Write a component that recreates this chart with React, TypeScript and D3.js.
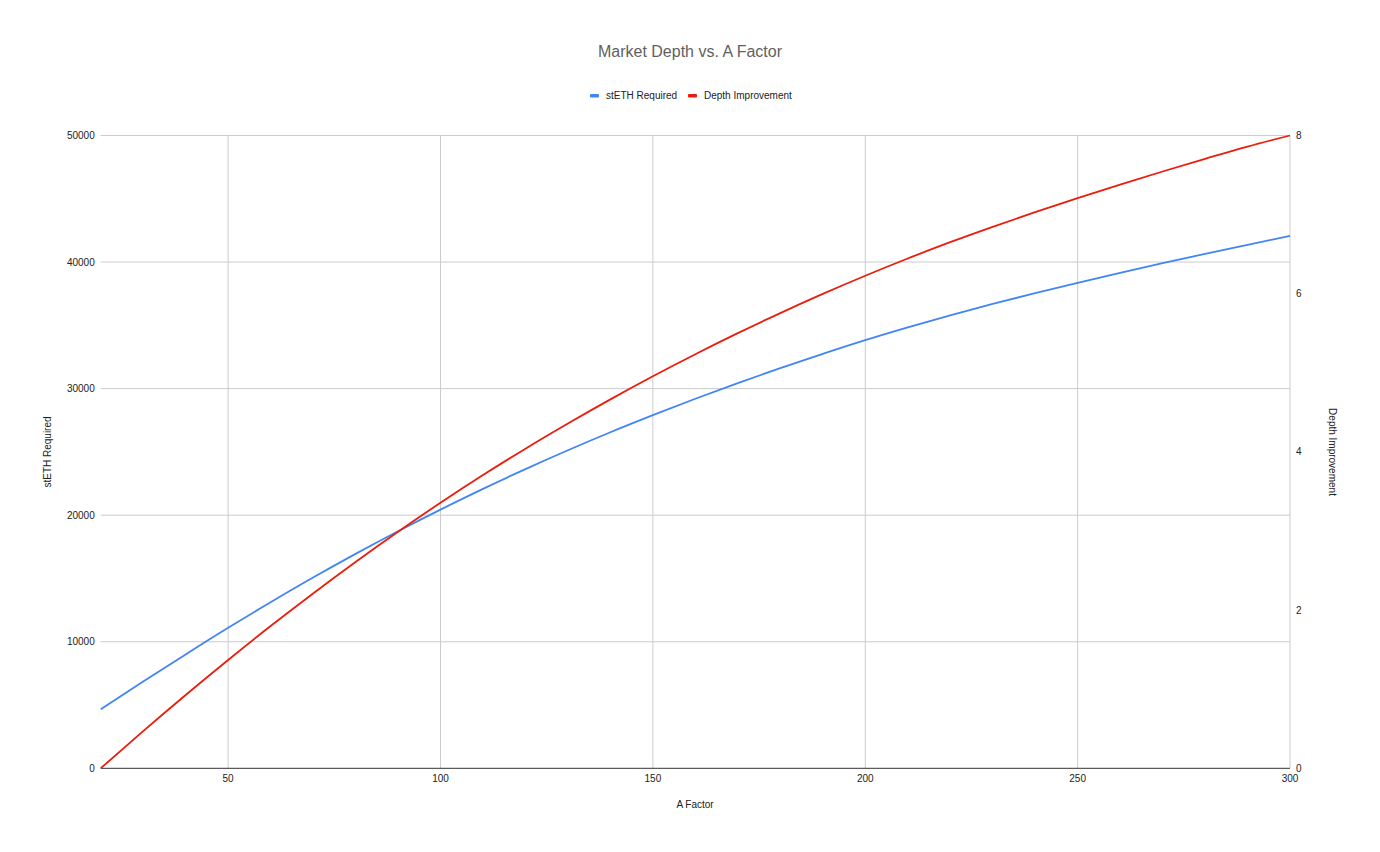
import React, { useEffect, useRef } from "react";
import * as d3 from "d3";

// A Factor values (x axis)
const aFactor = [
  20, 30, 40, 50, 60, 70, 80, 90, 100, 110, 120, 130, 140, 150, 160, 170, 180,
  190, 200, 210, 220, 230, 240, 250, 260, 270, 280, 290, 300,
];

// stETH Required (left axis)
const stethRequired = [
  4660, 6850, 9000, 11100, 13120, 15070, 16940, 18730, 20440, 22080, 23640,
  25130, 26550, 27900, 29200, 30440, 31620, 32750, 33830, 34840, 35790, 36690,
  37545, 38360, 39150, 39910, 40645, 41360, 42070,
];

// Depth Improvement (right axis)
const depthImprovement = [
  0, 0.47, 0.927, 1.37, 1.798, 2.211, 2.609, 2.991, 3.357, 3.707, 4.041, 4.359,
  4.664, 4.956, 5.235, 5.501, 5.755, 5.997, 6.227, 6.445, 6.651, 6.845, 7.031,
  7.209, 7.38, 7.545, 7.705, 7.86, 8.0,
];

const xTicks = [50, 100, 150, 200, 250, 300];
const leftTicks = [0, 10000, 20000, 30000, 40000, 50000];
const rightTicks = [0, 2, 4, 6, 8];

const seriesNames = ["stETH Required", "Depth Improvement"];
const seriesColors = ["#4285f4", "#ea1d0c"];

const FONT = "'Liberation Sans', Arial, sans-serif";

export default function App() {
  const svgRef = useRef<SVGSVGElement | null>(null);

  useEffect(() => {
    const width = 1380;
    const height = 852;
    const margin = { top: 135.5, right: 90, bottom: 83.7, left: 100.7 };
    const innerWidth = width - margin.left - margin.right;
    const innerHeight = height - margin.top - margin.bottom;

    const svg = d3.select(svgRef.current);
    svg.selectAll("*").remove();

    svg
      .append("rect")
      .attr("width", width)
      .attr("height", height)
      .attr("fill", "#ffffff");

    const xScale = d3.scaleLinear().domain([20, 300]).range([0, innerWidth]);
    const yLeft = d3.scaleLinear().domain([0, 50000]).range([innerHeight, 0]);
    const yRight = d3.scaleLinear().domain([0, 8]).range([innerHeight, 0]);

    const g = svg
      .append("g")
      .attr("transform", `translate(${margin.left}, ${margin.top})`);

    // horizontal gridlines
    g.selectAll(".hgrid")
      .data(leftTicks.filter((t) => t !== 0))
      .join("line")
      .attr("x1", 0)
      .attr("x2", innerWidth)
      .attr("y1", (d) => yLeft(d))
      .attr("y2", (d) => yLeft(d))
      .attr("stroke", "#cccccc")
      .attr("stroke-width", 1);

    // vertical gridlines
    g.selectAll(".vgrid")
      .data(xTicks)
      .join("line")
      .attr("x1", (d) => xScale(d))
      .attr("x2", (d) => xScale(d))
      .attr("y1", 0)
      .attr("y2", innerHeight)
      .attr("stroke", "#cccccc")
      .attr("stroke-width", 1);

    // baseline
    g.append("line")
      .attr("x1", 0)
      .attr("x2", innerWidth)
      .attr("y1", innerHeight)
      .attr("y2", innerHeight)
      .attr("stroke", "#333333")
      .attr("stroke-width", 1);

    // left tick labels
    g.selectAll(".lt")
      .data(leftTicks)
      .join("text")
      .attr("x", -6)
      .attr("y", (d) => yLeft(d))
      .attr("dy", "0.35em")
      .attr("text-anchor", "end")
      .attr("font-family", FONT)
      .attr("font-size", 10)
      .attr("fill", "#222222")
      .text((d) => String(d));

    // right tick labels
    g.selectAll(".rt")
      .data(rightTicks)
      .join("text")
      .attr("x", innerWidth + 6)
      .attr("y", (d) => yRight(d))
      .attr("dy", "0.35em")
      .attr("text-anchor", "start")
      .attr("font-family", FONT)
      .attr("font-size", 10)
      .attr("fill", "#222222")
      .text((d) => String(d));

    // x tick labels
    g.selectAll(".xt")
      .data(xTicks)
      .join("text")
      .attr("x", (d) => xScale(d))
      .attr("y", innerHeight + 14)
      .attr("text-anchor", "middle")
      .attr("font-family", FONT)
      .attr("font-size", 10)
      .attr("fill", "#222222")
      .text((d) => String(d));

    // lines
    const blueLine = d3
      .line<number>()
      .x((_, i) => xScale(aFactor[i]))
      .y((d) => yLeft(d))
      .curve(d3.curveMonotoneX);

    const redLine = d3
      .line<number>()
      .x((_, i) => xScale(aFactor[i]))
      .y((d) => yRight(d))
      .curve(d3.curveMonotoneX);

    g.append("path")
      .datum(stethRequired)
      .attr("fill", "none")
      .attr("stroke", seriesColors[0])
      .attr("stroke-width", 1.8)
      .attr("d", blueLine);

    g.append("path")
      .datum(depthImprovement)
      .attr("fill", "none")
      .attr("stroke", seriesColors[1])
      .attr("stroke-width", 1.8)
      .attr("d", redLine);

    // title
    svg
      .append("text")
      .attr("x", 690)
      .attr("y", 57)
      .attr("text-anchor", "middle")
      .attr("font-family", FONT)
      .attr("font-size", 16)
      .attr("fill", "#5f5f5f")
      .text("Market Depth vs. A Factor");

    // legend
    const legendX = [590, 688];
    seriesNames.forEach((name, i) => {
      svg
        .append("rect")
        .attr("x", legendX[i])
        .attr("y", 94)
        .attr("width", 9)
        .attr("height", 3.5)
        .attr("rx", 1)
        .attr("fill", seriesColors[i]);
      svg
        .append("text")
        .attr("x", legendX[i] + 16)
        .attr("y", 99)
        .attr("font-family", FONT)
        .attr("font-size", 10)
        .attr("fill", "#222222")
        .text(name);
    });

    // axis titles
    svg
      .append("text")
      .attr("x", 695)
      .attr("y", 808)
      .attr("text-anchor", "middle")
      .attr("font-family", FONT)
      .attr("font-size", 10)
      .attr("fill", "#222222")
      .text("A Factor");

    svg
      .append("text")
      .attr("transform", `translate(51, 452) rotate(-90)`)
      .attr("text-anchor", "middle")
      .attr("font-family", FONT)
      .attr("font-size", 10)
      .attr("fill", "#222222")
      .text("stETH Required");

    svg
      .append("text")
      .attr("transform", `translate(1329, 452) rotate(90)`)
      .attr("text-anchor", "middle")
      .attr("font-family", FONT)
      .attr("font-size", 10)
      .attr("fill", "#222222")
      .text("Depth Improvement");
  }, []);

  return (
    <svg
      ref={svgRef}
      width={1380}
      height={852}
      style={{ position: "absolute", left: 0, top: 0, display: "block" }}
    />
  );
}
